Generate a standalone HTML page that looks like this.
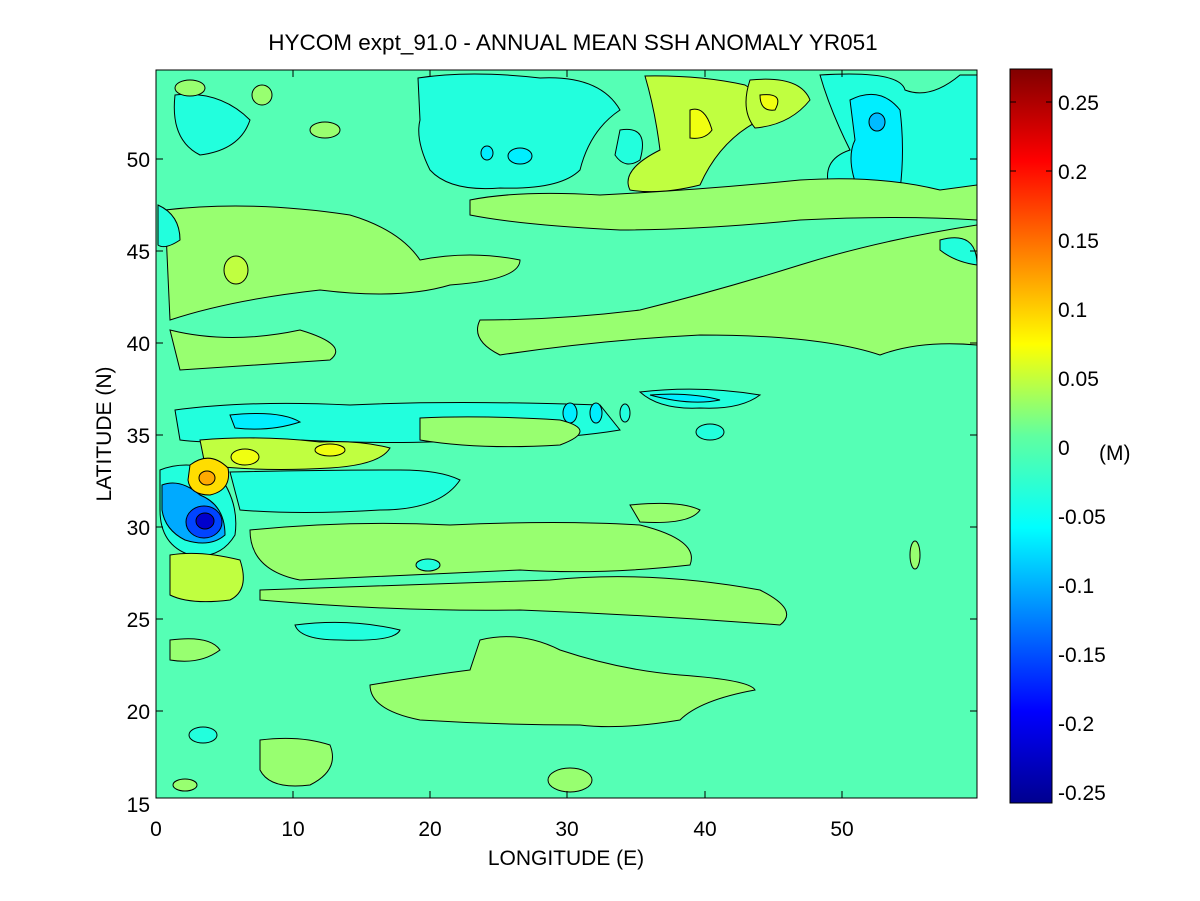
<!DOCTYPE html><html><head><style>body{margin:0;background:#fff}svg{display:block}text{font-family:"Liberation Sans",sans-serif}</style></head><body>
<svg width="1200" height="901" viewBox="0 0 1200 901" xmlns="http://www.w3.org/2000/svg">
<defs>
<linearGradient id="jet" x1="0" y1="1" x2="0" y2="0">
<stop offset="0" stop-color="#00008f"/><stop offset="0.125" stop-color="#0000ff"/><stop offset="0.375" stop-color="#00ffff"/><stop offset="0.5" stop-color="#60ffa0"/><stop offset="0.625" stop-color="#ffff00"/><stop offset="0.875" stop-color="#ff0000"/><stop offset="1" stop-color="#800000"/>
</linearGradient>
<clipPath id="c"><rect x="156" y="70" width="821" height="728"/></clipPath>
</defs>
<rect x="156" y="70" width="821" height="728" fill="#55ffb5"/>
<g clip-path="url(#c)" stroke="#000" stroke-width="1">
<path d="M418,78 Q470,70 540,78 Q600,75 620,110 Q590,130 580,170 Q560,190 500,188 Q450,192 430,170 Q415,140 420,120 Z" fill="#22ffdd"/>
<ellipse cx="487" cy="153" rx="6" ry="7" fill="#00eeff"/>
<ellipse cx="520" cy="156" rx="12" ry="8" fill="#00eeff"/>
<path d="M820,75 Q900,70 905,90 Q930,100 960,75 L977,75 L977,210 Q940,200 900,205 Q860,210 830,190 Q820,160 850,150 Q830,110 820,75Z" fill="#22ffdd"/>
<path d="M850,100 Q880,85 900,110 Q905,150 900,190 Q880,200 860,195 Q845,160 855,140Z" fill="#00eeff"/>
<ellipse cx="877" cy="122" rx="8" ry="9" fill="#00bbff"/>
<path d="M175,95 Q220,90 250,120 Q240,150 200,155 Q170,140 175,95Z" fill="#22ffdd"/>
<path d="M620,130 Q650,125 640,160 Q625,170 615,155Z" fill="#22ffdd"/>
<path d="M645,76 Q700,75 745,85 Q770,100 760,120 Q720,140 700,185 Q660,195 630,190 Q620,170 660,150 Q655,110 645,76Z" fill="#c0ff40"/>
<path d="M690,110 Q705,105 712,130 Q705,140 690,138Z" fill="#f0ff10"/>
<path d="M750,80 Q800,75 810,100 Q790,125 755,128 Q740,110 750,80Z" fill="#c0ff40"/>
<path d="M760,95 Q785,92 775,110 Q760,112 760,95Z" fill="#f0ff10"/>
<ellipse cx="190" cy="88" rx="15" ry="8" fill="#98ff70"/>
<ellipse cx="262" cy="95" rx="10" ry="10" fill="#98ff70"/>
<ellipse cx="325" cy="130" rx="15" ry="8" fill="#98ff70"/>
<path d="M470,200 Q520,190 600,195 Q700,190 800,180 Q880,175 940,190 L977,185 L977,220 Q900,215 800,220 Q700,230 620,230 Q520,225 470,215Z" fill="#98ff70"/>
<path d="M165,210 Q250,200 350,215 Q400,230 420,260 Q470,250 520,260 Q520,280 450,285 Q400,300 320,290 Q230,300 170,320 Z" fill="#98ff70"/>
<path d="M158,205 Q180,215 180,240 Q165,250 158,245Z" fill="#22ffdd"/>
<ellipse cx="236" cy="270" rx="12" ry="14" fill="#c0ff40"/>
<path d="M480,320 Q560,320 640,310 Q720,290 800,265 Q880,240 977,225 L977,345 Q920,340 880,355 Q820,335 700,335 Q600,340 500,355 Q470,340 480,320Z" fill="#98ff70"/>
<path d="M170,330 Q230,345 300,330 Q350,345 330,360 Q250,365 180,370Z" fill="#98ff70"/>
<path d="M175,410 Q250,400 350,405 Q450,400 600,405 L620,430 Q560,440 470,440 Q400,445 300,440 Q220,445 180,440Z" fill="#22ffdd"/>
<path d="M230,415 Q280,410 300,422 Q270,432 235,428Z" fill="#00eeff"/>
<path d="M640,392 Q700,385 760,395 Q740,410 700,408 Q660,410 640,392Z" fill="#22ffdd"/>
<path d="M650,395 Q690,392 720,400 Q690,406 650,395Z" fill="#00eeff"/>
<ellipse cx="570" cy="413" rx="7" ry="10" fill="#00eeff"/>
<ellipse cx="596" cy="413" rx="6" ry="10" fill="#00eeff"/>
<ellipse cx="625" cy="413" rx="5" ry="9" fill="#22ffdd"/>
<ellipse cx="710" cy="432" rx="14" ry="8" fill="#22ffdd"/>
<path d="M200,440 Q260,435 320,442 Q360,440 390,448 Q380,465 330,468 Q260,472 205,465Z" fill="#c0ff40"/>
<ellipse cx="245" cy="457" rx="14" ry="8" fill="#f0ff10"/>
<ellipse cx="330" cy="450" rx="15" ry="6" fill="#f0ff10"/>
<path d="M230,472 Q320,470 400,470 Q440,470 460,480 Q440,510 380,510 Q300,515 240,510Z" fill="#22ffdd"/>
<path d="M420,418 Q480,415 560,420 Q600,430 560,445 Q480,450 420,440Z" fill="#98ff70"/>
<path d="M160,470 Q185,460 215,470 Q240,500 235,535 Q220,560 190,555 Q160,545 160,510Z" fill="#22ffdd"/>
<path d="M162,485 Q180,478 200,495 Q225,505 225,535 Q210,548 185,540 Q165,530 162,510Z" fill="#00aaff"/>
<ellipse cx="204" cy="522" rx="18" ry="16" fill="#0044ff"/>
<ellipse cx="205" cy="521" rx="9" ry="8" fill="#0000cc"/>
<path d="M190,465 Q210,450 228,468 Q232,490 210,495 Q190,495 188,480Z" fill="#ffdd00"/>
<ellipse cx="207" cy="478" rx="8" ry="7" fill="#ffaa00"/>
<path d="M250,530 Q350,520 450,525 Q560,520 640,525 Q700,540 690,565 Q600,575 520,570 Q400,575 300,580 Q250,570 250,530Z" fill="#98ff70"/>
<path d="M630,505 Q680,500 700,510 Q690,525 640,522Z" fill="#98ff70"/>
<path d="M170,555 Q200,550 240,560 Q250,590 230,600 Q190,605 170,595Z" fill="#c0ff40"/>
<path d="M260,590 Q400,585 550,580 Q650,570 760,590 Q800,610 780,625 Q650,615 520,610 Q400,612 260,600Z" fill="#98ff70"/>
<ellipse cx="428" cy="565" rx="12" ry="6" fill="#22ffdd"/>
<path d="M295,625 Q350,618 400,630 Q395,642 340,640 Q300,640 295,625Z" fill="#22ffdd"/>
<path d="M480,640 Q520,630 560,650 Q620,670 680,675 Q750,680 755,690 Q700,700 680,720 Q620,730 580,725 Q500,725 420,720 Q370,710 370,685 Q430,675 470,670Z" fill="#98ff70"/>
<path d="M170,640 Q210,635 220,650 Q200,665 170,660Z" fill="#98ff70"/>
<path d="M260,740 Q300,735 330,745 Q340,770 310,785 Q270,790 260,770Z" fill="#98ff70"/>
<ellipse cx="203" cy="735" rx="14" ry="8" fill="#22ffdd"/>
<ellipse cx="570" cy="780" rx="22" ry="12" fill="#98ff70"/>
<ellipse cx="185" cy="785" rx="12" ry="6" fill="#98ff70"/>
<ellipse cx="915" cy="555" rx="5" ry="14" fill="#98ff70"/>
<path d="M940,240 Q977,230 977,265 Q955,262 940,250Z" fill="#22ffdd"/>
</g>
<rect x="156" y="70" width="821" height="728" fill="none" stroke="#000" stroke-width="1"/>
<g stroke="#000" stroke-width="1">
<line x1="293" y1="798" x2="293" y2="791"/><line x1="430" y1="798" x2="430" y2="791"/><line x1="567" y1="798" x2="567" y2="791"/><line x1="705" y1="798" x2="705" y2="791"/><line x1="842" y1="798" x2="842" y2="791"/>
<line x1="293" y1="70" x2="293" y2="77"/><line x1="430" y1="70" x2="430" y2="77"/><line x1="567" y1="70" x2="567" y2="77"/><line x1="705" y1="70" x2="705" y2="77"/><line x1="842" y1="70" x2="842" y2="77"/>
<line x1="156" y1="711" x2="163" y2="711"/><line x1="156" y1="619" x2="163" y2="619"/><line x1="156" y1="527" x2="163" y2="527"/><line x1="156" y1="435" x2="163" y2="435"/><line x1="156" y1="343" x2="163" y2="343"/><line x1="156" y1="251" x2="163" y2="251"/><line x1="156" y1="159" x2="163" y2="159"/>
<line x1="977" y1="711" x2="970" y2="711"/><line x1="977" y1="619" x2="970" y2="619"/><line x1="977" y1="527" x2="970" y2="527"/><line x1="977" y1="435" x2="970" y2="435"/><line x1="977" y1="343" x2="970" y2="343"/><line x1="977" y1="251" x2="970" y2="251"/><line x1="977" y1="159" x2="970" y2="159"/>
</g>
<g font-size="21" fill="#000">
<text x="573" y="50" text-anchor="middle" font-size="22.5">HYCOM expt_91.0 - ANNUAL MEAN SSH ANOMALY YR051</text>
<g text-anchor="middle"><text x="156" y="836">0</text><text x="293" y="836">10</text><text x="430" y="836">20</text><text x="567" y="836">30</text><text x="705" y="836">40</text><text x="842" y="836">50</text></g>
<text x="566" y="865" text-anchor="middle">LONGITUDE (E)</text>
<g text-anchor="end"><text x="150" y="812">15</text><text x="150" y="719">20</text><text x="150" y="627">25</text><text x="150" y="535">30</text><text x="150" y="443">35</text><text x="150" y="351">40</text><text x="150" y="259">45</text><text x="150" y="167">50</text></g>
<text transform="translate(111,434) rotate(-90)" text-anchor="middle">LATITUDE (N)</text>
</g>
<rect x="1010" y="69" width="42" height="734" fill="url(#jet)" stroke="#000"/>
<g stroke="#000"><line x1="1010" y1="102" x2="1016" y2="102"/><line x1="1046" y1="102" x2="1052" y2="102"/><line x1="1010" y1="171" x2="1016" y2="171"/><line x1="1046" y1="171" x2="1052" y2="171"/></g>
<g font-size="21" fill="#000">
<text x="1058" y="110">0.25</text><text x="1058" y="179">0.2</text><text x="1058" y="248">0.15</text><text x="1058" y="317">0.1</text><text x="1058" y="386">0.05</text><text x="1058" y="455">0</text><text x="1058" y="524">-0.05</text><text x="1058" y="593">-0.1</text><text x="1058" y="662">-0.15</text><text x="1058" y="731">-0.2</text><text x="1058" y="800">-0.25</text>
<text x="1099" y="460">(M)</text>
</g>
</svg>
</body></html>
